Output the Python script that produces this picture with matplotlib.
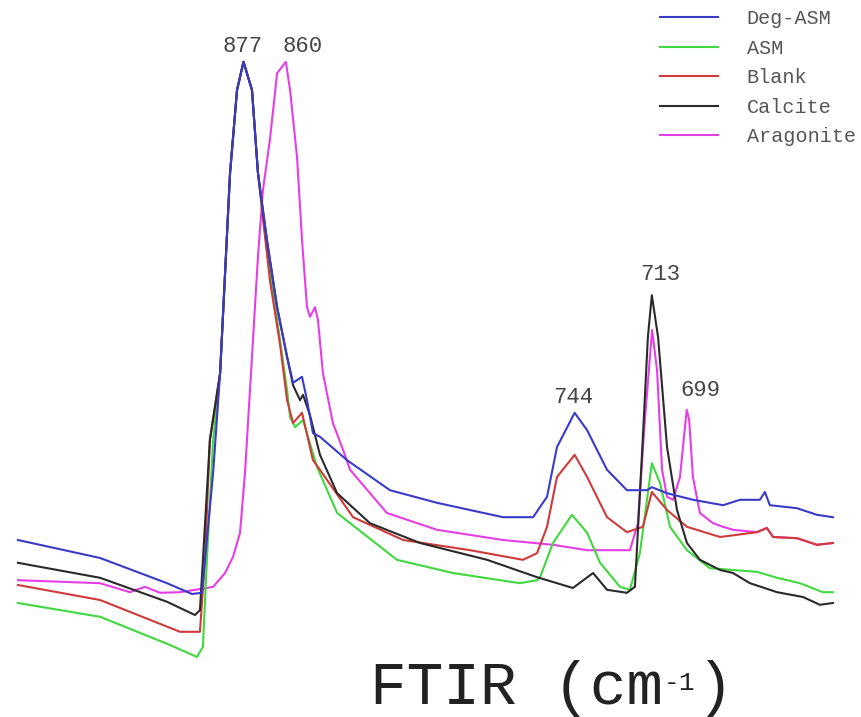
import matplotlib
matplotlib.use("Agg")
import matplotlib.pyplot as plt

# --- wavenumber (cm-1) / absorbance (a.u.) ---
deg_asm_x = [967.6, 934.6, 907.7, 897.7, 893.7, 889.2, 886.4, 884.4, 882.4, 879.6, 877.0,
             873.6, 871.2, 867.6, 863.5, 859.5, 857.1, 853.5, 851.5, 849.1, 846.3, 843.5,
             835.4, 818.2, 799.3, 772.8, 760.7, 755.1, 751.1, 744.0, 739.0, 731.0, 723.0,
             715.0, 713.0, 706.9, 696.5, 684.4, 677.6, 669.6, 667.6, 665.6, 654.7, 646.7, 640.3]
deg_asm_y = [0.200, 0.170, 0.128, 0.110, 0.112, 0.312, 0.478, 0.645, 0.812, 0.950, 0.997,
             0.950, 0.812, 0.700, 0.588, 0.505, 0.462, 0.472, 0.433, 0.378, 0.372, 0.362,
             0.333, 0.283, 0.262, 0.238, 0.238, 0.272, 0.355, 0.412, 0.383, 0.317, 0.283,
             0.283, 0.288, 0.278, 0.267, 0.258, 0.267, 0.267, 0.280, 0.258, 0.253, 0.242, 0.238]

asm_x = [967.6, 934.6, 906.5, 895.7, 893.3, 891.7, 889.2, 886.4, 884.4, 882.4, 879.6, 877.0,
         873.6, 871.2, 867.6, 863.5, 859.5, 858.3, 856.3, 853.1, 847.5, 839.4, 815.4, 792.9,
         766.0, 759.1, 757.9, 752.7, 745.1, 739.0, 733.8, 725.8, 721.8, 717.8, 713.0, 709.7,
         705.7, 698.9, 689.7, 680.4, 670.8, 662.7, 653.5, 644.3, 640.3]
asm_y = [0.095, 0.072, 0.025, 0.005, 0.022, 0.167, 0.367, 0.478, 0.645, 0.812, 0.950, 0.997,
         0.950, 0.812, 0.683, 0.567, 0.450, 0.405, 0.388, 0.400, 0.322, 0.245, 0.167, 0.145,
         0.128, 0.133, 0.138, 0.195, 0.242, 0.212, 0.162, 0.122, 0.117, 0.178, 0.328, 0.295,
         0.222, 0.183, 0.153, 0.150, 0.147, 0.137, 0.128, 0.113, 0.113]

blank_x = [967.6, 934.6, 902.5, 894.5, 892.5, 890.5, 886.4, 884.4, 882.4, 879.6, 877.0,
           873.6, 871.2, 866.4, 862.3, 859.5, 857.1, 853.5, 849.1, 846.3, 833.0, 812.9,
           786.0, 764.8, 759.1, 755.1, 751.1, 744.0, 739.0, 731.0, 723.0, 716.6, 713.0,
           706.9, 698.9, 685.6, 670.8, 666.8, 664.3, 654.7, 646.7, 640.3]
blank_y = [0.125, 0.100, 0.047, 0.047, 0.167, 0.367, 0.478, 0.645, 0.812, 0.950, 0.997,
           0.950, 0.812, 0.633, 0.525, 0.433, 0.395, 0.412, 0.333, 0.317, 0.238, 0.200,
           0.183, 0.167, 0.178, 0.222, 0.305, 0.342, 0.305, 0.238, 0.213, 0.222, 0.280,
           0.250, 0.222, 0.205, 0.213, 0.220, 0.205, 0.203, 0.192, 0.195]

calcite_x = [967.6, 934.6, 907.7, 896.5, 894.5, 893.3, 890.5, 886.4, 884.4, 882.4, 879.6, 877.0,
             873.6, 871.2, 867.6, 863.5, 859.5, 857.1, 854.3, 853.1, 850.3, 846.3, 839.4,
             826.2, 806.1, 779.2, 759.1, 744.7, 736.6, 731.0, 723.0, 719.8, 716.6, 714.6,
             713.0, 710.5, 706.9, 702.9, 698.9, 693.7, 685.6, 680.4, 673.6, 662.7, 652.3,
             645.5, 640.3]
calcite_y = [0.162, 0.137, 0.097, 0.075, 0.083, 0.167, 0.367, 0.478, 0.645, 0.812, 0.950, 0.997,
             0.950, 0.812, 0.700, 0.588, 0.505, 0.458, 0.433, 0.442, 0.408, 0.342, 0.278,
             0.228, 0.195, 0.167, 0.138, 0.120, 0.145, 0.117, 0.112, 0.122, 0.372, 0.538,
             0.608, 0.538, 0.355, 0.250, 0.195, 0.167, 0.150, 0.145, 0.128, 0.113, 0.105,
             0.092, 0.095]

aragonite_x = [967.6, 934.6, 922.6, 916.6, 910.5, 902.5, 891.7, 889.2, 884.4, 881.2, 878.4,
               876.4, 873.6, 871.2, 869.2, 866.4, 863.5, 860.0, 858.3, 855.5, 853.5, 851.5,
               850.3, 848.3, 847.1, 845.1, 841.1, 837.0, 834.2, 819.4, 799.3, 772.8, 752.7,
               739.0, 721.8, 718.6, 715.8, 712.9, 710.9, 708.9, 706.9, 704.5, 701.7, 699.0,
               698.0, 696.5, 693.7, 688.4, 684.4, 680.4, 670.8, 666.8, 664.3, 654.7, 646.7,
               640.3]
aragonite_y = [0.133, 0.128, 0.113, 0.122, 0.112, 0.113, 0.120, 0.122, 0.145, 0.172, 0.212,
               0.312, 0.505, 0.672, 0.783, 0.867, 0.978, 0.997, 0.950, 0.838, 0.700, 0.588,
               0.572, 0.588, 0.567, 0.478, 0.395, 0.350, 0.317, 0.245, 0.217, 0.200, 0.192,
               0.183, 0.183, 0.228, 0.400, 0.550, 0.483, 0.317, 0.272, 0.267, 0.305, 0.417,
               0.400, 0.305, 0.245, 0.228, 0.222, 0.217, 0.213, 0.220, 0.205, 0.203, 0.192,
               0.195]

series_names = ["Deg-ASM", "ASM", "Blank", "Calcite", "Aragonite"]
series_colors = ["#3a3ac8", "#3fd83f", "#d03a3a", "#2a2a2a", "#e63ee6"]

peak_labels = ["877", "860", "744", "713", "699"]

plt.rcParams["font.family"] = ["Liberation Mono", "DejaVu Sans Mono"]

fig = plt.figure(figsize=(8.61, 7.17), dpi=100)
ax = fig.add_axes([0, 0, 1, 1])

xs = [deg_asm_x, asm_x, blank_x, calcite_x, aragonite_x]
ys = [deg_asm_y, asm_y, blank_y, calcite_y, aragonite_y]
zorders = [5, 2, 3, 4, 1]
for x, y, name, c, z in zip(xs, ys, series_names, series_colors, zorders):
    ax.plot(x, y, color=c, lw=1.5, label=name, zorder=z)

ax.set_xlim(974.8, 629.0)
ax.set_ylim(-0.095, 1.1)
ax.axis("off")

# peak annotations
label_pos = [(877.4, 1.023), (853.1, 1.023), (744.7, 0.437), (709.7, 0.642), (693.4, 0.45)]
for txt, (px, py) in zip(peak_labels, label_pos):
    ax.text(px, py, txt, ha="center", va="center", fontsize=16, color="#444444")

leg = ax.legend(loc="upper left", bbox_to_anchor=(0.7666, 0.987),
                bbox_transform=fig.transFigure, frameon=False, fontsize=14.5,
                handlelength=2.9, handletextpad=1.4, labelspacing=0.52,
                borderpad=0, borderaxespad=0)
for t in leg.get_texts():
    t.set_color("#555555")

# axis caption, drawn in three pieces so the superscript stays small
fig.text(370 / 861, 1 - 704 / 717, "FTIR (cm", ha="left", va="baseline",
         fontsize=44, color="#222222")
fig.text(664 / 861, 1 - 690 / 717, "-1", ha="left", va="baseline",
         fontsize=19, color="#222222")
fig.text(697 / 861, 1 - 704 / 717, ")", ha="left", va="baseline",
         fontsize=44, color="#222222")

fig.savefig("out.png", dpi=100)
